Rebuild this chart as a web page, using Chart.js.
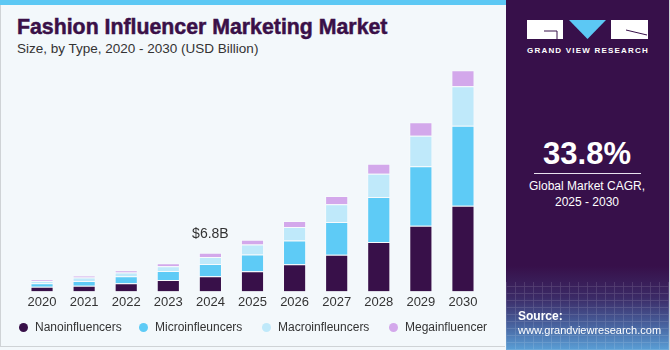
<!DOCTYPE html>
<html>
<head>
<meta charset="utf-8">
<script src="https://cdn.jsdelivr.net/npm/chart.js@4.4.0/dist/chart.umd.min.js"></script>
<style>
  body { margin: 0; width: 670px; height: 350px; overflow: hidden; font-family: "Liberation Sans", Arial, sans-serif; }
  .wrap { position: relative; width: 670px; height: 350px; background: #f3f8fb; }
  .frame { position: absolute; left: 0; top: 0; width: 505px; height: 347px; border-left: 1px solid #cfd3d6; border-bottom: 1px solid #cfd3d6; box-sizing: border-box; }
  .stripe { position: absolute; left: 0; top: 0; width: 506px; height: 5px; background: #5cc8f4; }
  .title { position: absolute; left: 17px; top: 15px; font-size: 21.3px; font-weight: bold; color: #3a1048; white-space: nowrap; -webkit-text-stroke: 0.5px #3a1048; }
  .subtitle { position: absolute; left: 17px; top: 41px; font-size: 13.5px; color: #333; white-space: nowrap; }
  .chartbox { position: absolute; left: 0; top: 0; width: 506px; height: 350px; }
  .legend { position: absolute; top: 320px; left: 0; font-size: 12px; color: #333; }
  .legend span.item { position: absolute; white-space: nowrap; line-height: 15px; }
  .legend i { position: absolute; width: 9px; height: 9px; border-radius: 50%; top: 3px; left: -16px; }
  .panel { position: absolute; left: 506px; top: 0; width: 164px; height: 350px; border-right: 1px solid #cfd3d6; box-sizing: border-box;
    background: linear-gradient(to bottom, #37104a 0%, #37104a 76%, #3b2a66 85%, #48639f 93%, #5a9fd6 100%); overflow: hidden; }
  .mesh { position: absolute; left: 0; top: 282px; width: 164px; height: 68px; opacity: 0.14;
    background-image: repeating-linear-gradient(90deg, rgba(255,255,255,0.8) 0 1px, transparent 1px 9px),
                      repeating-linear-gradient(0deg, rgba(255,255,255,0.8) 0 1px, transparent 1px 7px); }
  .gvr { position: absolute; left: 21px; top: 46px; font-size: 8px; font-weight: bold; color: #fff; letter-spacing: 1.2px; white-space: nowrap; }
  .cagr { position: absolute; left: 0; width: 162px; top: 136px; text-align: center; font-size: 31px; font-weight: bold; color: #fff; }
  .rule { position: absolute; left: 28px; width: 107px; top: 173px; height: 1px; background: #e8e2ee; }
  .cagrtxt { position: absolute; left: 0; width: 162px; top: 178px; text-align: center; font-size: 12px; line-height: 16px; color: #fff; }
  .src { position: absolute; left: 12px; top: 309px; font-size: 11px; line-height: 14px; color: #fff; }
</style>
</head>
<body>
<div class="wrap">
  <div class="frame"></div>
  <div class="stripe"></div>
  <div class="title">Fashion Influencer Marketing Market</div>
  <div class="subtitle">Size, by Type, 2020 - 2030 (USD Billion)</div>
  <div class="chartbox"><canvas id="chart"></canvas></div>
  <div class="legend">
    <span class="item" style="left:35px"><i style="background:#381049"></i>Nanoinfluencers</span>
    <span class="item" style="left:155px"><i style="background:#5ecbf6"></i>Microinfleuncers</span>
    <span class="item" style="left:278px"><i style="background:#bfe9fa"></i>Macroinfleuncers</span>
    <span class="item" style="left:405px"><i style="background:#d3a8eb"></i>Megainfluencer</span>
  </div>
  <div class="panel">
    <div class="mesh"></div>
    <svg style="position:absolute;left:21px;top:20px" width="121" height="20">
      <rect x="0" y="0" width="36" height="19" fill="#fff"/>
      <path d="M17 11 H30 V19" stroke="#37104a" stroke-width="1" fill="none"/>
      <polygon points="42,0 79,0 60.5,19" fill="#5cc8f4"/>
      <rect x="84" y="0" width="37" height="19" fill="#fff"/>
      <path d="M99 10 L120 15" stroke="#37104a" stroke-width="1"/>
    </svg>
    <div class="gvr">GRAND VIEW RESEARCH</div>
    <div class="cagr">33.8%</div>
    <div class="rule"></div>
    <div class="cagrtxt">Global Market CAGR,<br>2025 - 2030</div>
    <div class="src"><b style="font-size:12px">Source:</b><br>www.grandviewresearch.com</div>
  </div>
</div>
<script>
const years = ['2020', '2021', '2022', '2023', '2024', '2025', '2026', '2027', '2028', '2029', '2030'];
const nano = [0.80, 0.98, 1.45, 2.02, 2.65, 3.54, 4.76, 6.45, 8.67, 11.56, 15.05];
const micro = [0.65, 0.87, 1.22, 1.57, 2.17, 2.96, 4.18, 5.75, 7.95, 10.46, 14.07];
const macro = [0.40, 0.58, 0.65, 0.82, 1.23, 1.74, 2.39, 3.14, 4.08, 5.35, 6.97];
const mega = [0.25, 0.35, 0.40, 0.52, 0.75, 0.85, 1.05, 1.45, 1.74, 2.39, 2.79];
const calloutIndex = 4;
const calloutText = '$6.8B';

const makeSet = (label, data, color) => ({
    label: label,
    data: data,
    backgroundColor: color,
    borderColor: 'rgba(255,255,255,0.35)',
    borderWidth: 1,
    borderSkipped: 'bottom',
    barPercentage: 0.55,
    categoryPercentage: 1
});

// value label above the 2024 stack
const callout = {
    id: 'callout',
    afterDatasetsDraw(chart) {
        const ctx = chart.ctx;
        const total = nano[calloutIndex] + micro[calloutIndex] + macro[calloutIndex] + mega[calloutIndex];
        const x = chart.scales.x.getPixelForValue(calloutIndex);
        const y = chart.scales.y.getPixelForValue(total);
        ctx.save();
        ctx.font = '14px "Liberation Sans", Arial, sans-serif';
        ctx.fillStyle = '#333';
        ctx.textAlign = 'center';
        ctx.textBaseline = 'bottom';
        ctx.fillText(calloutText, x, y - 12);
        ctx.restore();
    }
};

new Chart(document.getElementById('chart'), {
    type: 'bar',
    data: {
        labels: years,
        datasets: [
            makeSet('Nanoinfluencers', nano, '#381049'),
            makeSet('Microinfleuncers', micro, '#5ecbf6'),
            makeSet('Macroinfleuncers', macro, '#bfe9fa'),
            makeSet('Megainfluencer', mega, '#d3a8eb')
        ]
    },
    options: {
        responsive: true,
        maintainAspectRatio: false,
        animation: false,
        layout: { padding: { left: 21, right: 22, top: 64, bottom: 37 } },
        plugins: {
            legend: { display: false },
            tooltip: { enabled: false }
        },
        scales: {
            x: {
                stacked: true,
                grid: { display: false, drawTicks: false },
                border: { display: false },
                ticks: { color: '#333', font: { size: 13, family: '"Liberation Sans", Arial, sans-serif' }, padding: 3 }
            },
            y: {
                stacked: true,
                display: false,
                min: 0,
                max: 40
            }
        }
    },
    plugins: [callout]
});
</script>
</body>
</html>
